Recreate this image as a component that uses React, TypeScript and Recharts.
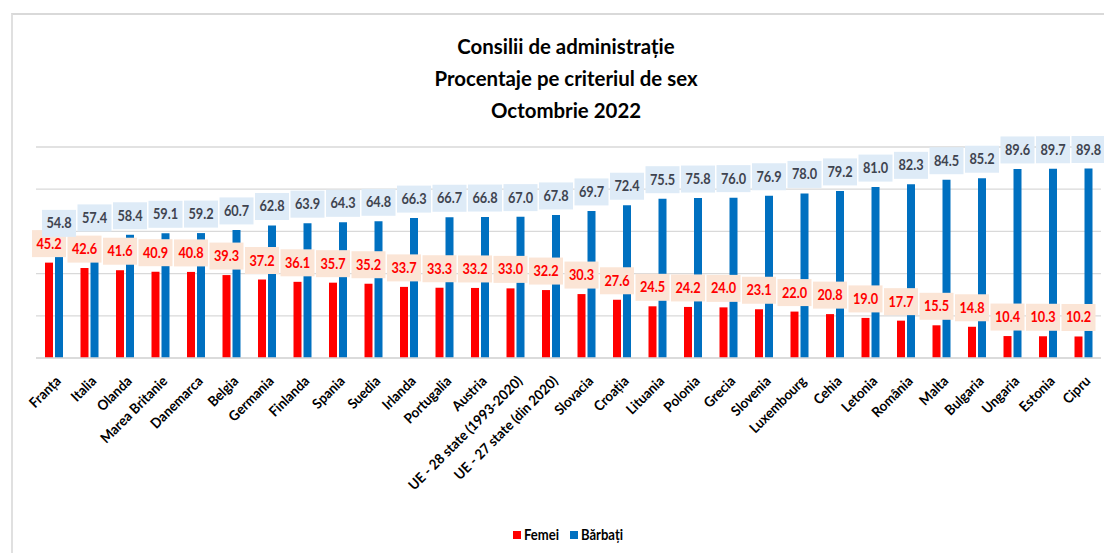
import { BarChart, Bar, XAxis, YAxis, CartesianGrid, LabelList } from "recharts";

const tari = [
  "Franța", "Italia", "Olanda", "Marea Britanie", "Danemarca", "Belgia", "Germania",
  "Finlanda", "Spania", "Suedia", "Irlanda", "Portugalia", "Austria",
  "UE - 28 state (1993-2020)", "UE - 27 state (din 2020)", "Slovacia", "Croația",
  "Lituania", "Polonia", "Grecia", "Slovenia", "Luxembourg", "Cehia", "Letonia",
  "România", "Malta", "Bulgaria", "Ungaria", "Estonia", "Cipru",
];
const femei = [
  45.2, 42.6, 41.6, 40.9, 40.8, 39.3, 37.2, 36.1, 35.7, 35.2, 33.7, 33.3, 33.2, 33.0, 32.2,
  30.3, 27.6, 24.5, 24.2, 24.0, 23.1, 22.0, 20.8, 19.0, 17.7, 15.5, 14.8, 10.4, 10.3, 10.2,
];
const barbati = [
  54.8, 57.4, 58.4, 59.1, 59.2, 60.7, 62.8, 63.9, 64.3, 64.8, 66.3, 66.7, 66.8, 67.0, 67.8,
  69.7, 72.4, 75.5, 75.8, 76.0, 76.9, 78.0, 79.2, 81.0, 82.3, 84.5, 85.2, 89.6, 89.7, 89.8,
];
const yTicks = [0, 10, 20, 30, 40, 50, 60, 70, 80, 90, 100];
const titlu = ["Consilii de administrație", "Procentaje pe criteriul de sex", "Octombrie 2022"];

const FONT = "Lato, 'Open Sans', sans-serif";
const RED = "#FF0000";
const BLUE = "#0070C0";
const CX = 566;

const data = tari.map((t, i) => ({ tara: t, femei: femei[i], barbati: barbati[i] }));

// Lato squeezed a little to get close to Calibri's width
const NarrowText = ({ x, y, size, sx = 0.9, fill, anchor = "middle", rotate = 0, children }: any) => (
  <text
    transform={`translate(${x} ${y}) rotate(${rotate}) scale(${sx} 1)`}
    textAnchor={anchor}
    fill={fill}
    fontFamily={FONT}
    fontWeight={700}
    fontSize={size}
  >
    {children}
  </text>
);

const labelBox = (cx: number, top: number, value: number, bg: string, color: string) => (
  <g>
    <rect x={cx - 17} y={top - 32.5} width={34} height={27} fill={bg} />
    <NarrowText x={cx} y={top - 14} size={14.5} sx={0.88} fill={color}>
      {value.toFixed(1)}
    </NarrowText>
  </g>
);

// both label sets are drawn from the last series so they sit above every bar
const FemeiLabel = (props: any) => {
  const { x, y, width, height, value, index } = props;
  const base = y + height;
  const top = base - (value * height) / barbati[index];
  return labelBox(x + width / 2 - 10, top, Number(value), "#FBE5D6", RED);
};

const BarbatiLabel = (props: any) => {
  const { x, y, width, value } = props;
  return labelBox(x + width / 2, y, Number(value), "#DEEBF7", "#3F4450");
};

const CountryTick = ({ x, y, payload }: any) => (
  <NarrowText x={x + 8} y={y + 24} size={14} sx={0.95} fill="#000" anchor="end" rotate={-45}>
    {payload.value}
  </NarrowText>
);

export default function App() {
  return (
    <div style={{ position: "relative", width: 1104, height: 553, overflow: "hidden" }}>
      <style>{`body{margin:0;overflow:hidden}`}</style>
      <div
        style={{
          position: "absolute",
          left: 11,
          top: 13,
          width: 1093,
          height: 540,
          borderTop: "2px solid #d9d9d9",
          borderLeft: "2px solid #e0e0e0",
        }}
      />
      <svg width={1104} height={553} style={{ position: "absolute", left: 0, top: 0 }}>
        {titlu.map((t, i) => (
          <NarrowText key={t} x={CX} y={54 + i * 32} size={21.5} sx={0.95} fill="#000">
            {t}
          </NarrowText>
        ))}
        <rect x={513} y={531} width={8} height={8} fill={RED} />
        <NarrowText x={524} y={540} size={14.5} sx={0.9} fill="#000" anchor="start">
          Femei
        </NarrowText>
        <rect x={570} y={531} width={8} height={8} fill={BLUE} />
        <NarrowText x={581} y={540} size={14.5} sx={0.9} fill="#000" anchor="start">
          Bărbați
        </NarrowText>
      </svg>
      <div style={{ position: "absolute", left: 0, top: 0 }}>
        <BarChart
          width={1104}
          height={553}
          data={data}
          margin={{ top: 147, right: 3, left: 36, bottom: 45 }}
          barSize={8}
          barGap={2}
        >
          <CartesianGrid vertical={false} stroke="#d9d9d9" strokeWidth={1.3} />
          <YAxis hide domain={[0, 100]} ticks={yTicks} />
          <XAxis
            dataKey="tara"
            interval={0}
            height={150}
            tickSize={0}
            tickMargin={0}
            axisLine={{ stroke: "#d9d9d9", strokeWidth: 1.3 }}
            tick={<CountryTick />}
          />
          <Bar dataKey="femei" name="Femei" fill={RED} isAnimationActive={false} />
          <Bar dataKey="barbati" name="Bărbați" fill={BLUE} isAnimationActive={false}>
            <LabelList dataKey="femei" content={<FemeiLabel />} />
            <LabelList dataKey="barbati" content={<BarbatiLabel />} />
          </Bar>
        </BarChart>
      </div>
    </div>
  );
}
